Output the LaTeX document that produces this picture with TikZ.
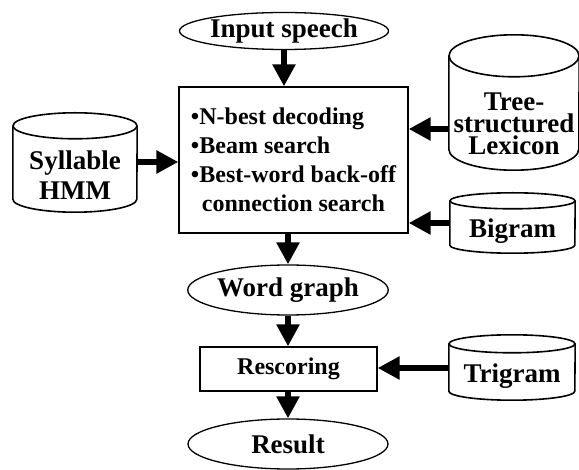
\documentclass[tikz,border=0pt]{standalone}
\usepackage{fontspec}
\setmainfont{Liberation Serif}
\usetikzlibrary{shapes.geometric,arrows.meta}
\newcommand{\dbshape}[3]{%
  \draw[line width=1.6pt] ([yshift=#3pt]#1.north west) -- ([yshift=#3pt]#1.south west)
    arc[start angle=180,end angle=360,x radius=#2pt,y radius=#3pt] -- ([yshift=#3pt]#1.north east);
  \draw[line width=1.6pt] ([yshift=#3pt]#1.north) ellipse[x radius=#2pt,y radius=#3pt];}

\begin{document}
\begin{tikzpicture}[x=1pt,y=-1pt,
    blk/.style={draw,line width=1.3pt,rectangle,inner sep=0pt},
    oval/.style={draw,line width=1.3pt,ellipse,inner sep=0pt,font=\fontsize{27}{27}\selectfont\bfseries},
    dbase/.style={rectangle,inner sep=0pt,align=center,font=\fontsize{27}{27}\selectfont\bfseries},
    flow/.style={line width=6pt,-{Triangle[length=22pt,width=22pt]}}]
  \useasboundingbox (0,0) rectangle (579,470);
  \node[oval,minimum width=190pt,minimum height=37pt] (inp) at (284,31) {Input speech};
  \node[blk,minimum width=229pt,minimum height=146pt,align=left,font=\fontsize{24}{29}\selectfont\bfseries] (dec) at (293.5,160) {•N-best decoding\\•Beam search\\•Best-word back-off\\\hspace{11pt}connection search};
  \node[oval,minimum width=200pt,minimum height=50pt] (wgraph) at (288,290) {Word graph};
  \node[blk,minimum width=177pt,minimum height=44pt,font=\fontsize{24}{24}\selectfont\bfseries] (resc) at (288.5,369) {Rescoring};
  \node[oval,minimum width=200pt,minimum height=50pt] (result) at (288,444) {Result};
  \node[dbase,minimum width=124pt,minimum height=73pt,font=\fontsize{27}{30}\selectfont\bfseries] (hmm) at (75,175.5) {Syllable\\HMM};
  \node[dbase,minimum width=130pt,minimum height=93pt,font=\fontsize{27}{22}\selectfont\bfseries] (lex) at (514,123.5) {Tree-\\structured\\Lexicon};
  \node[dbase,minimum width=125pt,minimum height=44pt] (big) at (512.5,231) {Bigram};
  \node[dbase,minimum width=126pt,minimum height=47pt] (tri) at (512,376.5) {Trigram};
  \dbshape{hmm}{62}{13}
  \dbshape{lex}{65}{21}
  \dbshape{big}{62.5}{8}
  \dbshape{tri}{63}{9}
  \draw[flow] (inp.south) -- (inp.south |- dec.north);
  \draw[flow] ([yshift=13.5pt]hmm.east) -- ([yshift=13.5pt]hmm.east -| dec.west);
  \draw[flow] ([yshift=-5.5pt]lex.west) -- ([yshift=-5.5pt]lex.west -| dec.east);
  \draw[flow] ([yshift=8pt]big.west) -- ([yshift=8pt]big.west -| dec.east);
  \draw[flow] (wgraph.north |- dec.south) -- (wgraph.north);
  \draw[flow] (wgraph.south) -- (wgraph.south |- resc.north);
  \draw[flow] ([yshift=8.5pt]tri.west) -- ([yshift=8.5pt]tri.west -| resc.east);
  \draw[flow] (resc.south -| result.north) -- (result.north);
\end{tikzpicture}
\end{document}
